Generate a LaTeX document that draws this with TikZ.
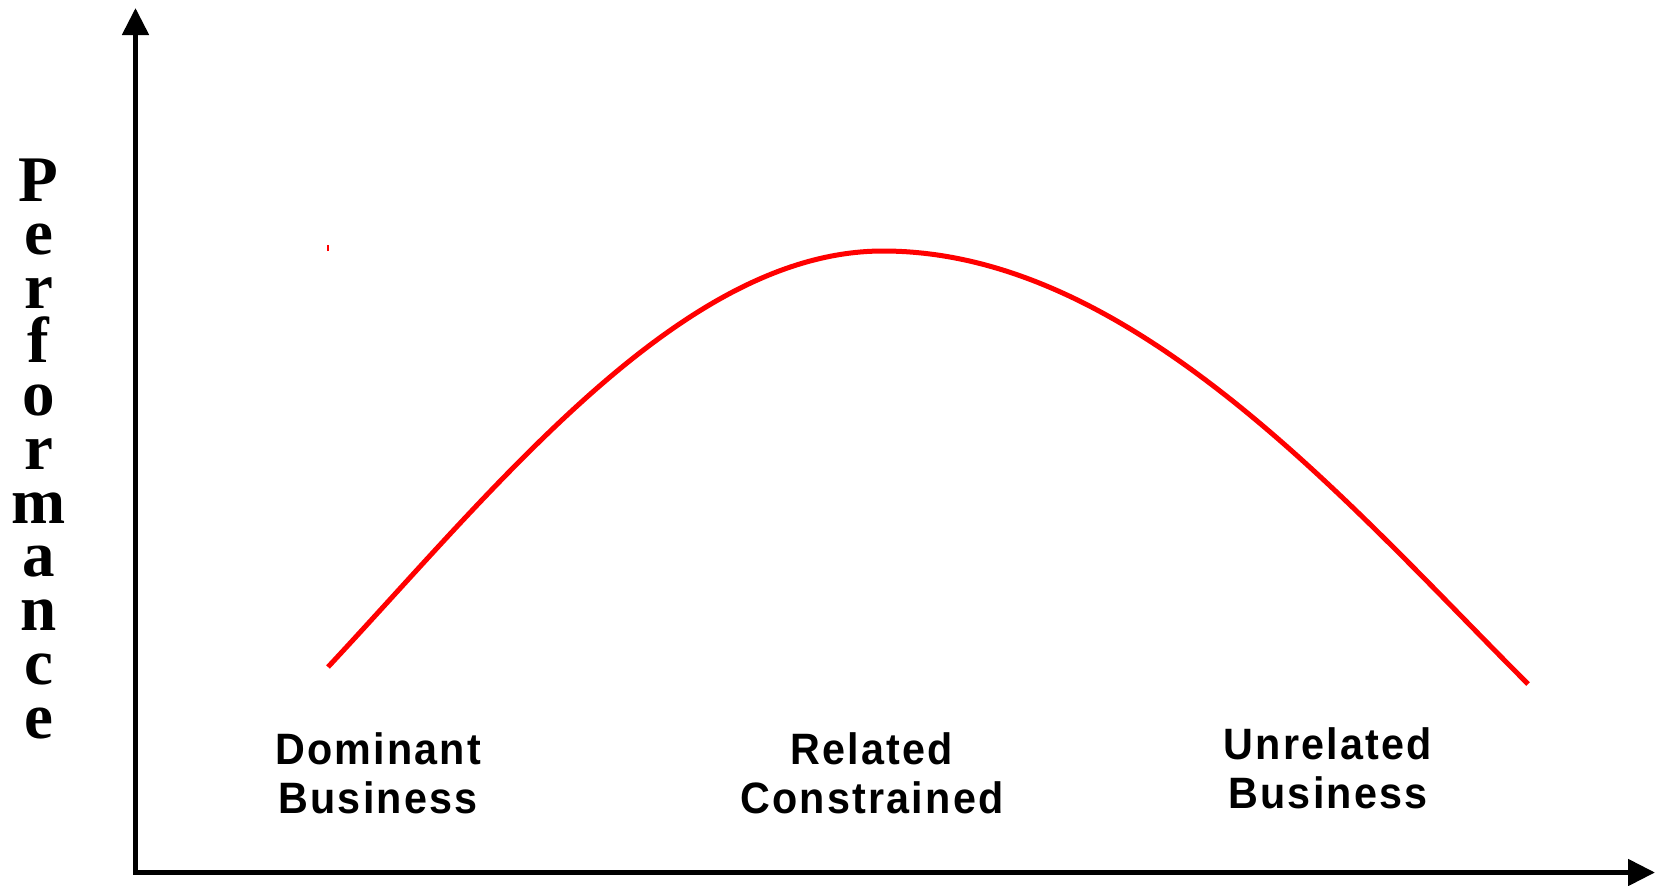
\documentclass[tikz,border=0pt]{standalone}
\usepackage{fontspec}
\setmainfont{Liberation Serif}
\newfontfamily\lblfont[FakeStretch=0.94,LetterSpace=5]{Liberation Sans}
\usetikzlibrary{arrows.meta}
\begin{document}
\begin{tikzpicture}[
  lbl/.style={anchor=north,inner sep=0,align=center,font=\lblfont\bfseries\fontsize{12.5}{14}\selectfont},
  letter/.style={anchor=base,inner sep=0,font=\bfseries\fontsize{18.5}{20}\selectfont},
  axis/.style={line width=.05cm,{Triangle[width=.26cm,length=.27cm]}-{Triangle[width=.26cm,length=.27cm]}}]
\useasboundingbox(0,0)rectangle(16.56,8.85);
\coordinate(O)at(1.355,.125);
\coordinate(Y)at(1.355,8.77);
\coordinate(X)at(16.55,.125);
\draw[axis](Y)--(O)--(X);
\foreach \l[count=\i] in {P,e,r,f,o,r,m,a,n,c,e}
  \node[letter](p\i)at(.385,{6.84-.537*(\i-1)}){\l};
\coordinate(A)at(3.28,2.18);
\coordinate(B)at(8.83,6.34);
\coordinate(C)at(15.28,2.01);
\draw[red,line width=.05cm](A).. controls +(47:2.5) and +(180:2) ..(B)
  .. controls +(0:2.5) and +(135:2.5) ..(C);
\draw[red,line width=.02cm](3.28,6.34)--(3.28,6.40);
\node[lbl](dom)at(3.78,1.53){Dominant\\Business};
\node[lbl](rel)at(8.72,1.53){Related\\Constrained};
\node[lbl](unr)at(13.28,1.58){Unrelated\\Business};
\end{tikzpicture}
\end{document}
